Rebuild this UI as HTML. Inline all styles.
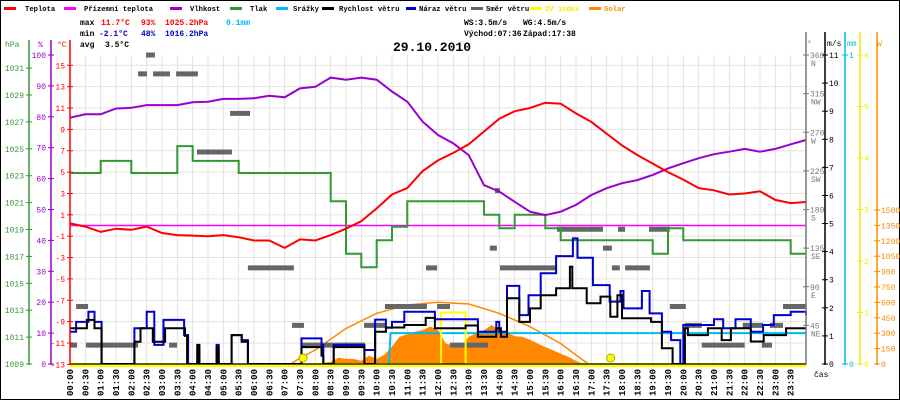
<!DOCTYPE html>
<html><head><meta charset="utf-8">
<style>
html,body{margin:0;padding:0;background:#fff;}
svg{display:block;font-family:"Liberation Mono",monospace;}
</style></head>
<body>
<svg id="chart" width="900" height="400" viewBox="0 0 900 400" xmlns="http://www.w3.org/2000/svg">
<rect x="0.5" y="0.5" width="899" height="399" fill="#fff" stroke="#000"/>
<g id="grid"></g>
<g id="series"></g>
<g id="axes"></g>
<g font-size="7.2" font-weight="bold">
<g><rect x="4" y="7" width="12" height="3" fill="#f00"/><text x="25" y="11">Teplota</text></g>
<g><rect x="64" y="7" width="12" height="3" fill="#f0f"/><text x="84" y="11">Přízemní teplota</text></g>
<g><rect x="170" y="7" width="12" height="3" fill="#90c"/><text x="190" y="11">Vlhkost</text></g>
<g><rect x="230" y="7" width="12" height="3" fill="#393"/><text x="250" y="11">Tlak</text></g>
<g><rect x="276" y="7" width="12" height="3" fill="#0bf"/><text x="293" y="11">Srážky</text></g>
<g><rect x="322" y="7" width="12" height="3" fill="#000"/><text x="339" y="11">Rychlost větru</text></g>
<g><rect x="406" y="7" width="10" height="3" fill="#00c"/><text x="419" y="11">Náraz větru</text></g>
<g><rect x="471" y="7" width="12" height="3" fill="#666"/><text x="486" y="11">Směr větru</text></g>
<g><rect x="530" y="7" width="12" height="3" fill="#ff0"/><text x="545" y="11" fill="#ee0">UV index</text></g>
<g><rect x="589" y="7" width="12" height="3" fill="#f80"/><text x="604" y="11" fill="#f80">Solar</text></g>
</g>
<g font-size="8" font-weight="bold">
<text x="80" y="25">max</text><text x="101" y="25" fill="#f00">11.7°C</text><text x="141" y="25" fill="#f00">93%</text><text x="165" y="25" fill="#f00">1025.2hPa</text><text x="226" y="25" fill="#0bf">0.1mm</text>
<text x="80" y="36">min</text><text x="99" y="36" fill="#00c">-2.1°C</text><text x="141" y="36" fill="#00c">48%</text><text x="165" y="36" fill="#00c">1016.2hPa</text>
<text x="80" y="47">avg</text><text x="105" y="47">3.5°C</text>
<text x="464" y="25">WS:3.5m/s</text><text x="523" y="25">WG:4.5m/s</text>
<text x="464" y="36">Východ:07:36</text><text x="523" y="36">Západ:17:38</text>
</g>
<text x="393" y="51" font-size="13" font-weight="bold">29.10.2010</text>
<text x="814" y="377" font-size="8">čas</text>
</svg>
<script>
// ---------- data ----------
const halfHours = [0,0.5,1,1.5,2,2.5,3,3.5,4,4.5,5,5.5,6,6.5,7,7.5,8,8.5,9,9.5,10,10.5,11,11.5,12,12.5,13,13.5,14,14.5,15,15.5,16,16.5,17,17.5,18,18.5,19,19.5,20,20.5,21,21.5,22,22.5,23,23.5,24];
const temperature = [0.2,-0.1,-0.6,-0.3,-0.4,-0.1,-0.7,-0.9,-0.95,-1.0,-0.9,-1.1,-1.4,-1.4,-2.1,-1.3,-1.4,-0.9,-0.3,0.4,1.6,2.9,3.5,5.1,6.1,6.8,7.6,8.8,10.0,10.7,11.0,11.5,11.4,10.5,9.7,8.6,7.5,6.6,5.8,5.0,4.3,3.5,3.3,2.9,3.0,3.2,2.4,2.1,2.2];
const feelsT = [0,24];
const feelsTemp = [0,0];
const humidity = [79.7,80.8,80.8,82.7,82.9,83.8,83.8,83.8,84.7,84.9,85.8,85.8,86.0,86.8,86.3,89.2,89.7,92.7,92.0,92.7,92.0,88.2,84.9,78.4,74.1,71.4,67.6,57.9,55.8,52.5,49.3,48.2,49.3,51.5,54.7,56.9,58.5,59.5,61.2,63.3,65.0,66.6,67.9,68.7,69.6,68.7,69.6,71.1,72.5];
const pressure = [1023.2,1023.2,1024.1,1024.1,1023.2,1023.2,1023.2,1025.2,1024.1,1024.1,1024.1,1023.2,1023.2,1023.2,1023.2,1023.2,1023.2,1021.1,1017.2,1016.2,1018.2,1019.2,1021.1,1021.1,1021.1,1021.1,1021.1,1020.1,1019.1,1020.1,1020.1,1019.1,1018.2,1018.2,1018.2,1018.2,1018.2,1018.2,1017.2,1019.1,1018.2,1018.2,1018.2,1018.2,1018.2,1018.2,1018.2,1017.2,1017.2];
const speedT = [0,0.55,0.8,1.03,2.1,2.3,2.7,3.1,3.75,3.82,4.15,4.22,4.78,4.85,5.27,5.6,5.8,7.55,8.2,8.26,8.6,9.6,9.95,10.3,10.9,11.6,11.9,12.9,13.3,13.9,14.05,14.25,14.65,15.0,15.35,15.85,16.3,16.38,16.85,17.3,17.62,17.85,18.0,18.95,19.3,19.65,20.05,20.15,20.8,21.25,21.55,22.2,22.62,23.35,24];
const speedV = [1.27,1.57,1.27,0,0.79,1.27,0.79,1.27,1.0,0,0.68,0,0.6,0,1.03,0.79,0,0.6,0.3,0,0.6,0,1.15,1.3,1.39,1.64,1.27,1.37,0.97,1.27,0.97,2.34,1.5,1.98,2.45,2.7,3.46,2.7,2.16,2.4,1.68,2.45,1.63,1.5,0.56,0,1.27,1.03,1.27,0.85,1.27,0.8,1.03,1.27,1.27];
const gustT = [0,0.2,0.6,0.8,1.03,2.1,2.5,2.75,3.05,3.72,3.85,4.15,4.22,4.78,4.85,5.27,5.6,5.8,7.55,8.2,8.26,8.6,9.6,9.95,10.3,10.5,10.9,11.9,13.3,13.9,14.0,14.25,14.65,14.95,15.35,15.85,16.4,16.55,17.05,17.6,17.95,18.05,18.65,18.9,19.3,19.6,19.9,20.0,21.0,21.3,21.7,22.2,22.6,22.95,23.5,24];
const gustV = [1.15,1.5,1.86,1.5,0,1.27,1.86,0.68,1.57,1.03,0,0.6,0,0.68,0,1.03,0.85,0,0.91,0.68,0,0.68,0.5,1.58,1.29,1.5,1.86,1.59,1.15,1.5,1.15,2.78,1.74,2.45,3.23,3.84,4.47,3.78,2.81,2.22,2.6,1.98,2.6,1.8,1.15,0.85,0,1.39,1.59,1.27,1.59,1.15,1.39,1.74,1.86,1.74];
const rainT = [0,10.4,10.45,24];
const rainMm = [0,0,0.1,0.1];
const uvT = [0,12.1,12.9,24];
const uvV = [0,1,0,0];
const solarT = [7.9,8.0,8.25,8.5,8.75,9,9.25,9.5,9.75,10,10.25,10.5,10.75,11,11.25,11.5,11.75,12,12.25,12.5,12.75,13,13.25,13.5,13.75,14,14.25,14.5,14.75,15,15.25,15.5,15.75,16,16.25,16.5,16.75];
const solarW = [0,5,10,20,60,50,50,30,80,50,90,170,265,290,315,330,365,330,200,180,165,265,300,330,380,330,310,270,265,235,200,165,135,100,70,30,0];
const clearT = [7.2,7.5,8,9,10,11,12,13,14,15,16,16.5,16.9];
const clearW = [0,58,136,347,494,575,601,584,494,363,200,88,0];
const dirStart = [2.48,2.22,2.71,3.46,5.22,4.14,5.80,11.61,0.2,0,0.52,3.23,7.24,10.27,11.97,9.59,7.56,13.69,14.02,15.88,17.38,17.67,17.87,18.1,18.88,19.56,23.25,12.39,13.86,20.6,22.56,20.05,21.94,22.82];
const dirEnd   = [2.77,2.51,3.26,4.17,5.87,5.28,7.30,11.97,0.59,0.23,2.22,3.49,7.63,11.64,12.39,10.3,9.62,13.92,15.88,17.38,17.67,17.93,18.1,18.91,19.56,20.08,24,13.63,14.02,22.0,22.89,20.6,22.6,23.25];
const dirDeg   = [360,338,338,338,292,247,112,112,67,22,22,22,45,67,67,45,22,135,112,157,135,112,157,112,157,67,67,22,202,22,22,45,45,45];
const sunMarkers = [7.6,17.63];
const tempTicks = [15,13,11,9,7,5,3,1,-1,-3,-5,-7,-9,-11,-13];
const humTicks = [0,10,20,30,40,50,60,70,80,90,100];
const presTicks = [1009,1011,1013,1015,1017,1019,1021,1023,1025,1027,1029,1031];
const dirTicks = [45,90,135,180,225,270,315,360];
const dirNames = ["NE","E","SE","S","SW","W","NW","N"];
const windTicks = [0,1,2,3,4,5,6,7,8,9,10,11];
const mmTicks = [0,1];
const uvTicks = [0,1,2,3,4,5,6];
const solarTicks = [0,150,300,450,600,750,900,1050,1200,1350,1500];

// ---------- scales ----------
const X0=70, X1=806, YB=364;
const xT = t => X0 + t*(X1-X0)/24;
const yTemp = v => 225.5 - v*10.68;
const yHum = v => YB - v*3.09;
const yPres = v => YB - (v-1009)*13.45;
const yDir = v => YB - v*309/360;
const yWind = v => YB - v*309/11;
const yMm = v => YB - v*309;
const yUv = v => YB - v*309/6;
const ySol = v => YB - v*154/1500;

const NS='http://www.w3.org/2000/svg';
function mk(parent, tag, attrs){const e=document.createElementNS(NS,tag);for(const k in attrs)e.setAttribute(k,attrs[k]);parent.appendChild(e);return e;}
const grid=document.getElementById('grid'), ser=document.getElementById('series'), axes=document.getElementById('axes');

for(let i=0;i<=48;i++){const x=xT(i*0.5);const l=mk(grid,'line',{x1:x,x2:x,y1:55,y2:YB,stroke:'#e4e0e0','stroke-width':1});

}
tempTicks.forEach(v=>{const y=yTemp(v);const l=mk(grid,'line',{x1:X0,x2:X1,y1:y,y2:y,stroke:'#e4e0e0','stroke-width':1});

});

function linePath(ts,vs,fy){return ts.map((t,i)=>(i?'L':'M')+xT(t).toFixed(1)+' '+fy(vs[i]).toFixed(1)).join(' ');}
function stepPath(ts,vs,fy){let d='M'+xT(ts[0]).toFixed(1)+' '+fy(vs[0]).toFixed(1);for(let i=1;i<ts.length;i++){d+=' H'+xT(ts[i]).toFixed(1)+' V'+fy(vs[i]).toFixed(1);}return d;}

{let d='M'+xT(solarT[0])+' '+YB+' '+solarT.map((t,i)=>'L'+xT(t).toFixed(1)+' '+ySol(solarW[i]).toFixed(1)).join(' ')+' L'+xT(solarT[solarT.length-1])+' '+YB+' Z';
const p=mk(ser,'path',{d:d,fill:'#ff8800'});

}
{const p=mk(ser,'path',{d:linePath(clearT,clearW,ySol),fill:'none',stroke:'#ff8800','stroke-width':1.5});

}
dirDeg.forEach((v,i)=>{const r=mk(ser,'rect',{x:xT(dirStart[i]),y:yDir(v)-2.5,width:Math.max(2,xT(dirEnd[i])-xT(dirStart[i])),height:5,fill:'#666'});

});
{const p=mk(ser,'path',{d:linePath(feelsT,feelsTemp,yTemp),fill:'none',stroke:'#f0f','stroke-width':1.5});

}
{const p=mk(ser,'path',{d:stepPath(halfHours,pressure,yPres),fill:'none',stroke:'#339933','stroke-width':2});

}
{const p=mk(ser,'path',{d:linePath(halfHours,humidity,yHum),fill:'none',stroke:'#9900cc','stroke-width':2});

}
{const p=mk(ser,'path',{d:linePath(halfHours,temperature,yTemp),fill:'none',stroke:'#f00','stroke-width':2});

}
{const p=mk(ser,'path',{d:linePath(rainT,rainMm,yMm),fill:'none',stroke:'#00bbee','stroke-width':2});

}
{const p=mk(ser,'path',{d:stepPath(uvT,uvV,yUv),fill:'none',stroke:'#ffff00','stroke-width':2});

}
{const p=mk(ser,'path',{d:stepPath(gustT,gustV,yWind),fill:'none',stroke:'#0000cc','stroke-width':2});

}
{const p=mk(ser,'path',{d:stepPath(speedT,speedV,yWind),fill:'none',stroke:'#000','stroke-width':2});

}
{const l=mk(ser,'line',{x1:X0,x2:X1,y1:YB+1.5,y2:YB+1.5,stroke:'#ffff00','stroke-width':3});

}
{const l=mk(ser,'line',{x1:X0,x2:X1,y1:YB,y2:YB,stroke:'#000','stroke-width':1.2});

}
sunMarkers.forEach(t=>{const c=mk(ser,'circle',{cx:xT(t),cy:YB-6,r:4,fill:'#ffff00',stroke:'#aa0','stroke-width':1});

});

for(let i=0;i<48;i++){const t=i*0.5;const x=xT(t);const h=Math.floor(t),m=(t%1)?'30':'00';
const lab=(h<10?'0':'')+h+':'+m;
const tx=mk(axes,'text',{x:0,y:0,transform:`translate(${x+3},369) rotate(-90)`,'text-anchor':'end','font-size':9,'font-weight':'bold'});
tx.textContent=lab;

}

function vAxis(name,x,y0,color,ticks,fy,labelSide){
 const l=mk(axes,'line',{x1:x,x2:x,y1:y0,y2:YB+1,stroke:color,'stroke-width':1.5});
 
 
 ticks.forEach((v)=>{const y=fy(v);
  mk(axes,'line',{x1:x-3,x2:x+3,y1:y,y2:y,stroke:color,'stroke-width':1});
  const t=mk(axes,'text',{x:labelSide<0?x-5:x+4,y:y+3,'text-anchor':labelSide<0?'end':'start','font-size':8,fill:color});
  t.textContent=v;
  
  });
}
vAxis('pressure-axis',29,40,'#339933',presTicks,yPres,-1);
vAxis('humidity-axis',51,40,'#9900cc',humTicks,yHum,-1);
vAxis('temperature-axis',70,40,'#f00',tempTicks,yTemp,-1);
vAxis('direction-axis',806,32,'#777',dirTicks,yDir,1);
dirTicks.forEach((v,i)=>{const t=mk(axes,'text',{x:811,y:yDir(v)+11,'font-size':8,fill:'#777'});
t.textContent=dirNames[i];

});
vAxis('wind-axis',825,32,'#000',windTicks,yWind,1);
vAxis('rain-axis',845,32,'#00bbee',mmTicks,yMm,1);
vAxis('uv-axis',860,32,'#eeee00',uvTicks,yUv,1);
vAxis('solar-axis',877,32,'#ff8800',solarTicks,ySol,1);
[['hPa',5,'#339933'],['%',38,'#9900cc'],['°C',57,'#f00'],['°',807,'#777'],['m/s',827,'#000'],['mm',847,'#00bbee'],['W',877,'#ff8800']].forEach(a=>{
 const t=mk(axes,'text',{x:a[1],y:a[1]>700?46:47,'font-size':8,fill:a[2]});
 t.textContent=a[0];
 
 });
</script>
</body></html>
